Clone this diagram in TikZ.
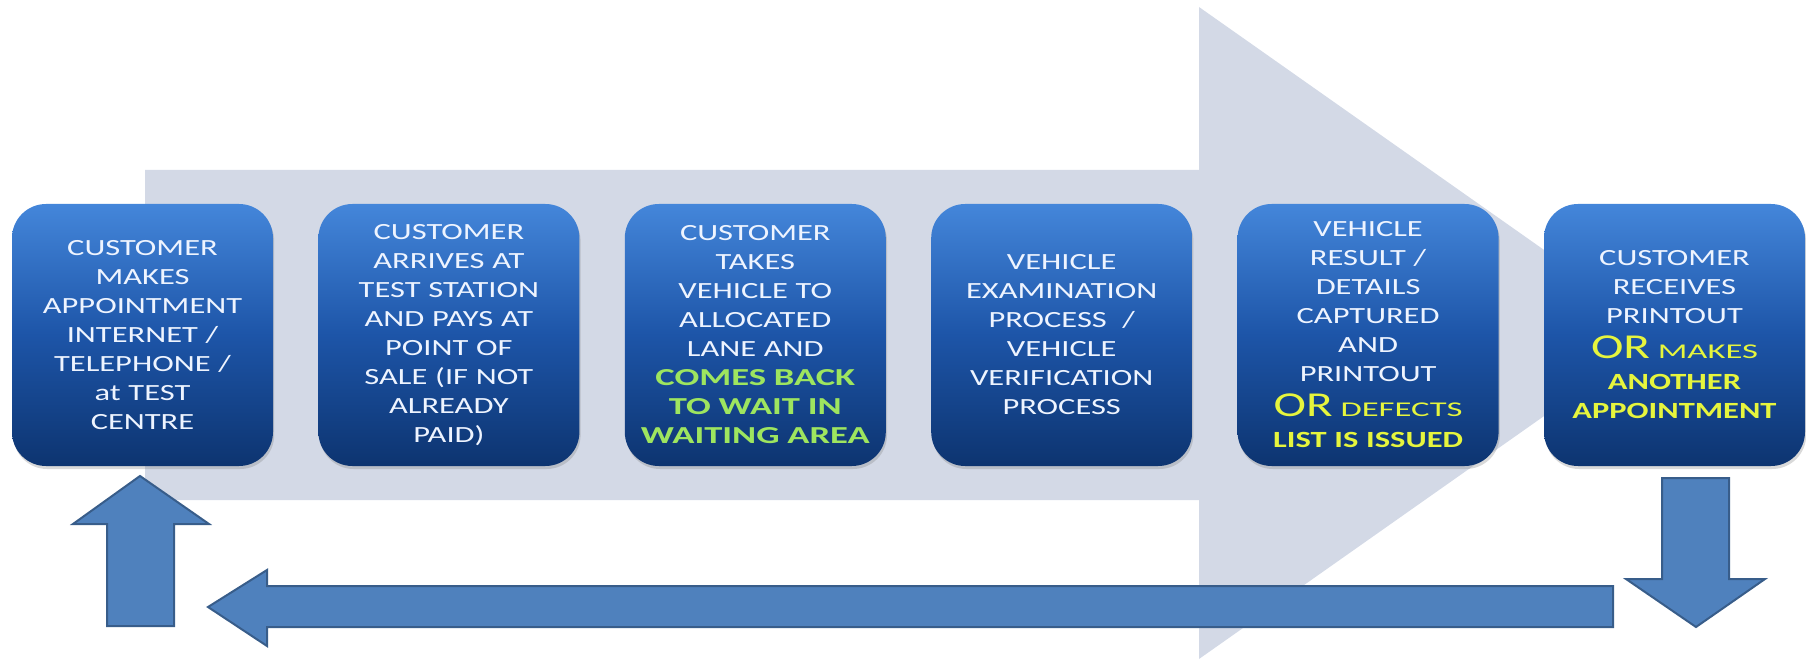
\documentclass[tikz,border=0pt]{standalone}
\usepackage{fontspec}
\setmainfont[FakeStretch=1.4]{Carlito}
\newfontfamily\waitfont[FakeStretch=1.5]{Carlito}
\newfontfamily\widefont[FakeStretch=1.65]{Carlito}
\usetikzlibrary{positioning,shadows}
\definecolor{boxtop}{HTML}{4486DA}
\definecolor{boxmid}{HTML}{1D55A8}
\definecolor{boxbot}{HTML}{0D3470}
\definecolor{boxtext}{HTML}{EEF4FF}
\definecolor{waitgreen}{HTML}{9EE55F}
\definecolor{oryellow}{HTML}{E6F53D}
\definecolor{bgarrow}{HTML}{D3D9E6}
\definecolor{blockfill}{HTML}{4F81BD}
\definecolor{blockline}{HTML}{385D8A}
\newcommand{\orword}{{\fontsize{17.5}{17.5}\selectfont OR}}
\newcommand{\smallcap}[1]{{\widefont\fontsize{10.5}{10.5}\selectfont #1}}

\begin{document}
\begin{tikzpicture}[x=0.5pt,y=-0.5pt,
	procbox/.style={rounded corners=17pt,minimum width=130.5pt,minimum height=131pt,
		text width=127pt,align=center,inner sep=0pt,
		top color=boxtop,bottom color=boxbot,middle color=boxmid,text=boxtext,
		font=\fontsize{11.6}{14.5}\selectfont,
		drop shadow={opacity=0.3,shadow xshift=0.6pt,shadow yshift=-1.5pt}},
	blockarrow/.style={fill=blockfill,draw=blockline,line width=1pt,line join=miter}]
	
	\useasboundingbox (0,0) rectangle (1806,663);
	
	% big arrow behind the steps
	\fill[bgarrow] (145,170) -- (1199,170) -- (1199,7) -- (1662,333) -- (1199,659)
		-- (1199,500) -- (145,500) -- cycle;
	
	\node[procbox] (b1) at (142.5,335) {CUSTOMER\\MAKES\\APPOINTMENT\\INTERNET /\\TELEPHONE /\\at TEST\\CENTRE};
	\node[procbox,right=22.3pt of b1] (b2) {CUSTOMER\\ARRIVES AT\\TEST STATION\\AND PAYS AT\\POINT OF\\SALE (IF NOT\\ALREADY\\PAID)};
	\node[procbox,right=22.3pt of b2] (b3) {CUSTOMER\\TAKES\\VEHICLE TO\\ALLOCATED\\LANE AND\\
		{\color{waitgreen}\waitfont\bfseries\fontsize{12.2}{14.5}\selectfont COMES BACK\\TO WAIT IN\\WAITING AREA}};
	\node[procbox,right=22.3pt of b3] (b4) {VEHICLE\\EXAMINATION\\PROCESS~~/\\VEHICLE\\VERIFICATION\\PROCESS};
	\node[procbox,right=22.3pt of b4] (b5) {VEHICLE\\RESULT /\\DETAILS\\CAPTURED\\AND\\PRINTOUT\\[3pt]
		{\color{oryellow}\orword\ \smallcap{DEFECTS}\\[1pt]\bfseries LIST IS ISSUED}};
	\node[procbox,right=22.3pt of b5] (b6) {CUSTOMER\\RECEIVES\\PRINTOUT\\[3pt]
		{\color{oryellow}\orword\ \smallcap{MAKES}\\[1pt]\bfseries ANOTHER\\APPOINTMENT}\\[4pt]};
	
	% loop back: down, left, up
	\draw[blockarrow] (1662,478) -- (1729,478) -- (1729,579) -- (1765,579) -- (1696,627)
		-- (1626,579) -- (1662,579) -- cycle; % down
	\draw[blockarrow] (1613,586) -- (267,586) -- (267,570) -- (208,607) -- (267,646)
		-- (267,627) -- (1613,627) -- cycle; % back
	\draw[blockarrow] (107,626) -- (107,524) -- (73,524) -- (140,476) -- (209,524)
		-- (174,524) -- (174,626) -- cycle; % up
\end{tikzpicture}
\end{document}
